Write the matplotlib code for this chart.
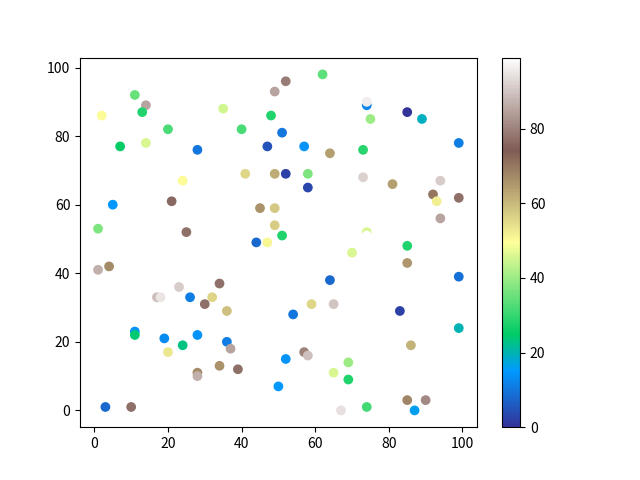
import matplotlib
matplotlib.use('Agg')
import matplotlib.pyplot as plt

plt.rcParams['font.family'] = ['Noto Sans CJK SC', 'DejaVu Sans']

# point positions and colour values
x = [2, 11, 14, 13, 14, 20, 7, 28, 35, 40,
     24, 5, 21, 1, 25, 41, 49, 45, 49, 49,
     47, 44, 51, 47, 48, 49, 52, 51, 52, 57,
     58, 58, 62, 64, 73, 74, 74, 75, 85, 89,
     99, 73, 81, 92, 94, 93, 99, 94, 74, 74,
     70, 85, 85, 99, 64, 54, 59, 65, 83, 99,
     57, 58, 52, 65, 69, 69, 86, 50, 67, 74,
     85, 90, 87, 1, 4, 17, 18, 23, 26, 32,
     30, 34, 36, 11, 11, 19, 20, 24, 28, 36,
     37, 28, 28, 34, 39, 3, 10]
y = [86, 92, 89, 87, 78, 82, 77, 76, 88, 82,
     67, 60, 61, 53, 52, 69, 69, 59, 59, 54,
     49, 49, 51, 77, 86, 93, 96, 81, 69, 77,
     69, 65, 98, 75, 76, 89, 90, 85, 87, 85,
     78, 68, 66, 63, 67, 61, 62, 56, 52, 51,
     46, 48, 43, 39, 38, 28, 31, 31, 29, 24,
     17, 16, 15, 11, 14, 9, 19, 7, 0, 1,
     3, 3, 0, 41, 42, 33, 33, 36, 33, 33,
     31, 37, 29, 23, 22, 21, 17, 19, 22, 20,
     18, 11, 10, 13, 12, 1, 1]
c = [50, 35, 85, 28, 46, 32, 25, 10, 45, 32,
     50, 15, 76, 37, 77, 56, 62, 66, 58, 57,
     51, 8, 28, 5, 28, 85, 79, 10, 2, 14,
     37, 3, 34, 64, 29, 12, 96, 40, 0, 19,
     11, 92, 64, 70, 91, 52, 77, 85, 46, 99,
     46, 28, 65, 9, 8, 10, 56, 90, 2, 20,
     80, 89, 14, 46, 40, 28, 61, 15, 94, 31,
     68, 81, 16, 87, 67, 89, 95, 91, 11, 56,
     77, 77, 59, 14, 24, 13, 53, 23, 14, 11,
     85, 67, 87, 66, 77, 8, 77]

fig, ax = plt.subplots(figsize=(6.4, 4.8), dpi=100)
sc = ax.scatter(x, y, c=c, cmap='terrain')
fig.colorbar(sc)
fig.savefig('out.png')
